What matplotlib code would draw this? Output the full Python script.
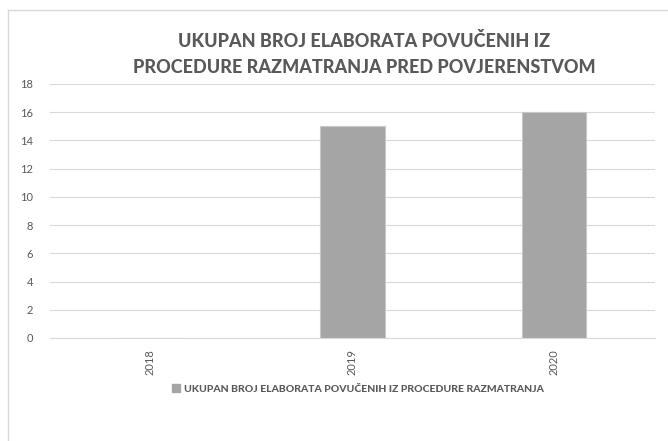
import matplotlib.pyplot as plt
from matplotlib.lines import Line2D
from matplotlib.patches import Patch

years = ["2018", "2019", "2020"]
values = [0, 15, 16]
y_ticks = [0, 2, 4, 6, 8, 10, 12, 14, 16, 18]

title = "UKUPAN BROJ ELABORATA POVUČENIH IZ\nPROCEDURE RAZMATRANJA PRED POVJERENSTVOM"
series_name = "UKUPAN BROJ ELABORATA POVUČENIH IZ PROCEDURE RAZMATRANJA"

plt.rcParams['font.family'] = ['Lato', 'DejaVu Sans']
text_color = "#595959"
bar_color = "#a5a5a5"
grid_color = "#d9d9d9"

W, H = 668, 441
fig = plt.figure(figsize=(W / 100, H / 100), dpi=100)
fig.patch.set_facecolor("white")

left, right = 49.5, 655
top, bottom = 84, 338
ax = fig.add_axes([left / W, 1 - bottom / H, (right - left) / W, (bottom - top) / H])

x = list(range(len(years)))
ax.bar(x, values, width=0.32, color=bar_color, edgecolor="#c8c8c8", linewidth=0.8, zorder=3)
ax.set_xlim(-0.5, len(years) - 0.5)
ax.set_ylim(0, 18)
ax.set_yticks(y_ticks)
ax.set_yticklabels([str(v) for v in y_ticks], color=text_color, fontsize=8)
ax.set_xticks(x)
ax.set_xticklabels(years, rotation=90, color=text_color, fontsize=8)
ax.tick_params(axis="both", length=0)
ax.tick_params(axis="y", pad=12)
ax.tick_params(axis="x", pad=8)
ax.grid(axis="y", color=grid_color, linewidth=0.8, zorder=0)
for side in ["top", "right", "left"]:
    ax.spines[side].set_visible(False)
ax.spines["bottom"].set_color(grid_color)
ax.spines["bottom"].set_linewidth(0.8)

fig.text(364 / W, 1 - 54 / H, title, ha="center", va="center", fontsize=13,
         fontweight="black", color=text_color, linespacing=1.6)

fig.legend(handles=[Patch(facecolor=bar_color, edgecolor=bar_color, label=series_name)],
           loc="center", bbox_to_anchor=(358 / W, 1 - 389 / H), frameon=False,
           handlelength=0.7, handleheight=0.7, handletextpad=0.4,
           prop={"weight": "black", "size": 7.5})
for t in fig.legends[0].get_texts():
    t.set_color(text_color)

# chart frame edges
fig.add_artist(Line2D([8 / W, 8 / W], [0, 1 - 10 / H], transform=fig.transFigure,
                      color="#d9d9d9", linewidth=1))
fig.add_artist(Line2D([8 / W, 1], [1 - 10 / H, 1 - 10 / H], transform=fig.transFigure,
                      color="#d9d9d9", linewidth=1))

fig.savefig("out.png", dpi=100, facecolor="white")
